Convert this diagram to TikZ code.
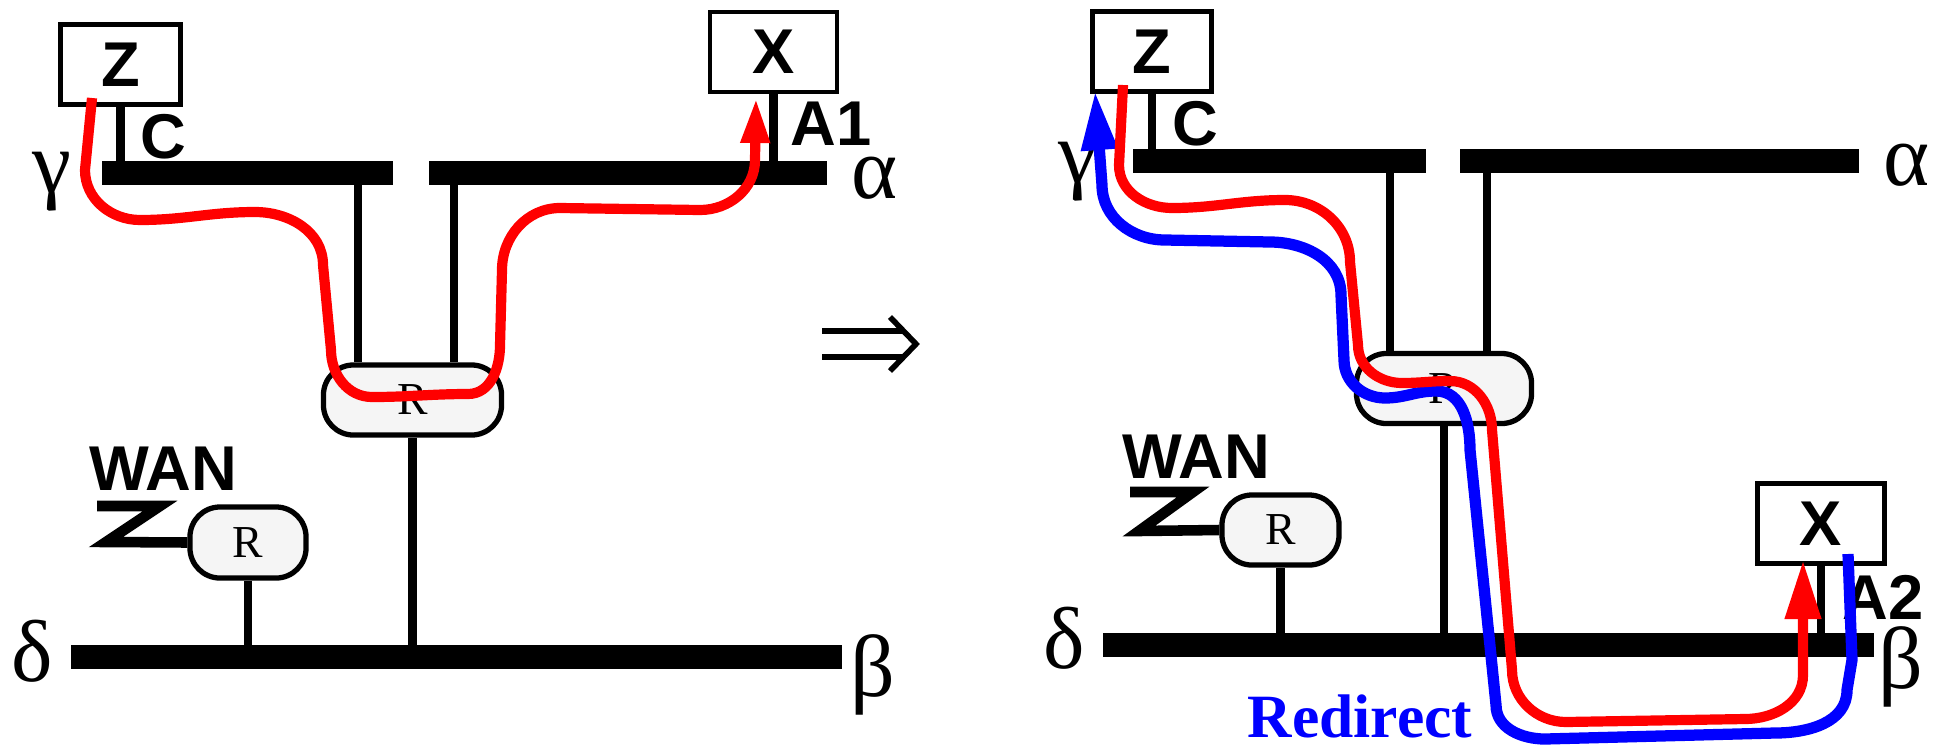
\documentclass[tikz,border=0pt]{standalone}
\usepackage{fontspec}
\setmainfont{Liberation Serif}
\setsansfont{Liberation Sans}
\usepackage{tikz}
\usetikzlibrary{arrows.meta, positioning}
\definecolor{pathRed}{RGB}{255,0,0}
\definecolor{pathBlue}{RGB}{0,0,255}

\begin{document}
\begin{tikzpicture}[
    x=0.01cm, y=-0.01cm,
    lbl/.style={font=\sffamily\bfseries\fontsize{18}{18}\selectfont, inner sep=0pt},
    greek/.style={font=\fontsize{25}{25}\selectfont, inner sep=0pt},
    host/.style={draw, line width=1.3pt, minimum width=1.20cm, minimum height=0.80cm, inner sep=0pt, font=\sffamily\bfseries\fontsize{18}{18}\selectfont},
    router/.style={draw, line width=1.5pt, fill=black!4, rounded corners=0.3cm, minimum width=1.78cm, minimum height=0.70cm, inner sep=0pt, font=\fontsize{13}{13}\selectfont},
    bus/.style={line width=6.8pt},
    tap/.style={line width=2.3pt},
    wan/.style={line width=3pt, miter limit=10},
    flow/.style={draw=pathRed, line width=2.9pt},
    redirect/.style={draw=pathBlue, line width=3.2pt},
    smallTip/.style={-{Triangle[length=12.8pt, width=7.7pt]}},
    bigTip/.style={-{Triangle[length=16.8pt, width=9.7pt]}}
  ]
    \useasboundingbox (0,0) rectangle (1937,745);

    % ---- before ----
    \node[host] (zl) at (120.5,64.5) {Z};
    \node[host, minimum width=1.27cm] (xl) at (773.5,52) {X};
    \node[router] (rl) at (412.5,400) {R};
    \node[router, minimum width=1.16cm, minimum height=0.71cm] (wl) at (248,542.5) {R};

    \draw[bus] (102,173) -- (393,173);
    \draw[bus] (429,173) -- (827,173);
    \draw[bus] (71,657) -- (842,657);
    \coordinate (tl1) at (358,173);
    \coordinate (tl2) at (454,173);
    \coordinate (bl) at (0,657);

    \draw[tap] (zl.south) -- (zl.south |- tl1);
    \draw[tap] (xl.south) -- (xl.south |- tl1);
    \draw[tap] (tl1) -- (tl1 |- rl.north);
    \draw[tap] (tl2) -- (tl2 |- rl.north);
    \draw[tap] (rl.south) -- (rl.south |- bl);
    \draw[tap] (wl.south) -- (wl.south |- bl);
    \draw[wan] (97,506) -- (160,506) -- (106,542) -- (wl.west);

    \node[lbl] (cl) at (163,137) {C};
    \node[lbl] (a1) at (831,124) {A1};
    \node[lbl] (wanl) at (163,469) {WAN};
    \node[greek] (gl) at (52,182) {γ};
    \node[greek] (al) at (875,178) {α};
    \node[greek] (dl) at (32,651) {δ};
    \node[greek] (bt) at (873,675) {β};

    \coordinate (zlSrc) at (92,98);
    \coordinate (xlDst) at (756,98);
    \draw[flow, smallTip] (zlSrc) -- (85,170) to[out=-90,in=180] (140,220)
      to[out=0,in=180] (255,212) to[out=0,in=90] (323,265) -- (331,350)
      to[out=-90,in=180] (372,397) to[out=0,in=180] (468,394)
      to[out=0,in=-90] (500,345) -- (502,270) to[out=90,in=180] (560,208)
      -- (700,210) to[out=0,in=-90] (755,160) -- (xlDst);

    % implies mark
    \draw[line width=1.6pt] (822,331) -- (903,331) (822,357) -- (903,357);
    \draw[line width=1.6pt, miter limit=10] (890,317) -- (916,344) -- (890,371);

    % ---- after ----
    \node[host, minimum width=1.19cm] (zr) at (1152,51.5) {Z};
    \node[host, minimum width=1.27cm] (xr) at (1821,523.5) {X};
    \node[router, minimum width=1.75cm] (rr) at (1444,388.5) {R};
    \node[router, minimum width=1.17cm] (wr) at (1280.5,530) {R};

    \draw[bus] (1133,161) -- (1426,161);
    \draw[bus] (1460,161) -- (1859,161);
    \draw[bus] (1103,645) -- (1874,645);
    \coordinate (tr1) at (1390,161);
    \coordinate (tr2) at (1487,161);
    \coordinate (br) at (0,645);

    \draw[tap] (zr.south) -- (zr.south |- tr1);
    \draw[tap] (xr.south) -- (xr.south |- br);
    \draw[tap] (tr1) -- (tr1 |- rr.north);
    \draw[tap] (tr2) -- (tr2 |- rr.north);
    \draw[tap] (rr.south) -- (rr.south |- br);
    \draw[tap] (wr.south) -- (wr.south |- br);
    \draw[wan] (1130,492) -- (1193,492) -- (1139,531) -- (wr.west);

    \node[lbl] (cr) at (1195,124) {C};
    \node[lbl] (a2) at (1883,597) {A2};
    \node[lbl] (wanr) at (1196,457) {WAN};
    \node[greek] (gr) at (1078,172) {γ};
    \node[greek] (ar) at (1906,165) {α};
    \node[greek] (dr) at (1064,638) {δ};
    \node[greek] (br2) at (1901,667) {β};

    \coordinate (zrSrc) at (1123,85);
    \coordinate (xrDst) at (1803,560);
    \coordinate (xrSrc) at (1848,554);
    \coordinate (zrDst) at (1095,91);

    \draw[redirect, bigTip] (xrSrc) -- (1852,660) -- (1847,690)
      to[out=-90,in=0] (1775,733) -- (1545,739) to[out=180,in=-90] (1496,705)
      -- (1470,450) to[out=90,in=0] (1436,391) to[out=180,in=0] (1385,398)
      to[out=180,in=-90] (1344,360) -- (1341,295) to[out=90,in=0] (1270,242)
      -- (1165,240) to[out=180,in=-90] (1102,185) -- (zrDst);
    \draw[flow, bigTip] (zrSrc) -- (1119,165) to[out=-90,in=180] (1172,208)
      to[out=0,in=180] (1285,200) to[out=0,in=90] (1350,262) -- (1358,345)
      to[out=-90,in=180] (1402,383) to[out=0,in=180] (1450,381)
      to[out=0,in=90] (1492,430) -- (1512,670) to[out=-90,in=180] (1566,722)
      -- (1745,719) to[out=0,in=-90] (1803,675) -- (xrDst);

    \node[font=\bfseries\fontsize{17.5}{17.5}\selectfont, text=pathBlue, inner sep=0pt] (redir) at (1360,716) {Redirect};
  \end{tikzpicture}
\end{document}
